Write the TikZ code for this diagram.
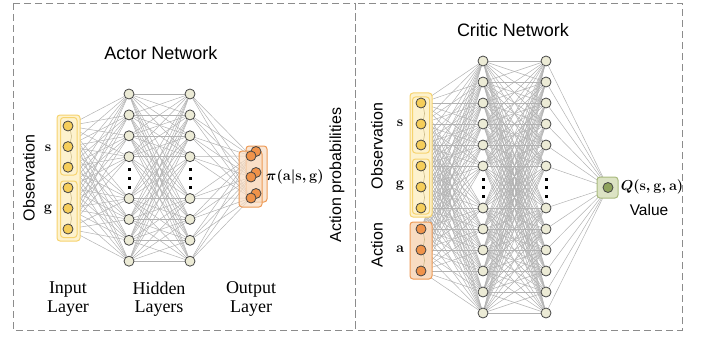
\documentclass[tikz,border=0pt]{standalone}
\usepackage[no-math]{fontspec}
\newfontfamily\sansfont{Liberation Sans}
\newfontfamily\seriffont{Liberation Serif}
\pgfdeclarelayer{edges}
\pgfdeclarelayer{groups}
\pgfsetlayers{edges,groups,main}

\definecolor{edgegray}{HTML}{B2B2B2}
\definecolor{hidfill}{HTML}{ECEBD6}
\definecolor{nodeline}{HTML}{444444}
\definecolor{inyellow}{HTML}{F6CE5A}
\definecolor{boxyellow}{HTML}{FDF2CE}
\definecolor{boxyellowline}{HTML}{F6D36E}
\definecolor{inorange}{HTML}{F0934A}
\definecolor{boxorange}{HTML}{F8DCC2}
\definecolor{boxorangeline}{HTML}{EE9A55}
\definecolor{outgreen}{HTML}{8FA35C}
\definecolor{boxgreen}{HTML}{DCE3C4}
\definecolor{boxgreenline}{HTML}{A9BA7E}
\definecolor{framegray}{HTML}{8C8C8C}
\definecolor{chaintan}{HTML}{C2B07A}

\tikzset{
  neuron/.style={circle, draw=nodeline, line width=0.8pt, minimum size=10pt, inner sep=0pt},
  hidden/.style={neuron, fill=hidfill},
  inneuron/.style={neuron, fill=inyellow},
  actneuron/.style={neuron, fill=inorange},
  valneuron/.style={neuron, fill=outgreen},
  link/.style={draw=edgegray, line width=0.5pt},
  chain/.style={draw=chaintan, line width=0.5pt},
  ybox/.style={draw=boxyellowline, fill=boxyellow, rounded corners=3pt, line width=1pt},
  obox/.style={draw=boxorangeline, fill=boxorange, rounded corners=3pt, line width=1pt},
  gbox/.style={draw=boxgreenline, fill=boxgreen, rounded corners=3pt, line width=1pt},
  framebox/.style={draw=framegray, line width=0.9pt, dash pattern=on 7pt off 4pt},
  title/.style={font=\sansfont\fontsize{18}{20}\selectfont},
  sidelabel/.style={font=\sansfont\fontsize{16}{18}\selectfont, rotate=90},
  layerlabel/.style={font=\seriffont\fontsize{18}{18.5}\selectfont, align=center},
  mathlabel/.style={font=\fontsize{13.5}{15}\selectfont\boldmath},
  letterlabel/.style={font=\fontsize{15}{16}\selectfont\boldmath},
  gapdot/.style={fill=black, minimum size=3pt, inner sep=0pt, rectangle}
}

\begin{document}
\begin{tikzpicture}[x=1pt, y=-1pt]
\useasboundingbox (0,0) rectangle (702,337);

% dashed panels
\draw[framebox] (13,3) rectangle (355,330);
\draw[framebox] (355,3) rectangle (682,330);

% ---------------- Actor network ----------------
\node[title] (atitle) at (161,53) {Actor Network};

\foreach \i in {1,...,6}
  \node[inneuron] (a-in-\i) at (68,{126+20.6*(\i-1)}) {};
\foreach \k [count=\n] in {0,1,2,3,5,6,7,8} {
  \node[hidden] (a-h1-\n) at (129,{94+20.9*\k}) {};
  \node[hidden] (a-h2-\n) at (190,{94+20.9*\k}) {};
}
\foreach \i in {1,2,3}
  \node[actneuron] (a-outb-\i) at (256,{151.5+21*(\i-1)}) {};
\foreach \i in {1,2,3}
  \node[actneuron] (a-out-\i) at (251,{156+21*(\i-1)}) {};

\foreach \y [count=\n] in {169,178,187} {
  \node[gapdot] (a-d1-\n) at (129,\y) {};
  \node[gapdot] (a-d2-\n) at (190,\y) {};
}

\begin{pgfonlayer}{edges}
  \foreach \i in {1,...,6}
    \foreach \j in {1,...,8}
      \draw[link] (a-in-\i) -- (a-h1-\j);
  \foreach \i in {1,...,8}
    \foreach \j in {1,...,8}
      \draw[link] (a-h1-\i) -- (a-h2-\j);
  \foreach \i in {1,...,8}
    \foreach \j in {1,2,3}
      \draw[link] (a-h2-\i) -- (a-out-\j);
\end{pgfonlayer}

\begin{pgfonlayer}{groups}
  \draw[ybox] (57,115) rectangle (80,241);
  \draw[ybox] (60.5,117.5) rectangle (77,175);
  \draw[ybox] (60.5,181) rectangle (77,237.5);
  \draw[obox, fill opacity=0.7] (246,146) rectangle (267,202);
  \draw[obox, fill opacity=0.7] (239,151) rectangle (262,207);
  \foreach \i/\j in {1/2,2/3,4/5,5/6}
    \draw[chain] (a-in-\i.center) to[bend left=35] (a-in-\j.center);
\end{pgfonlayer}

\node[sidelabel] (aobs) at (29,178) {Observation};
\node[letterlabel] (as) at (48,148) {$\mathbf{s}$};
\node[letterlabel] (ag) at (48,210) {$\mathbf{g}$};
\node[mathlabel] (api) at (295,177) {$\pi(\mathbf{a}|\mathbf{s},\mathbf{g})$};
\node[sidelabel] (aprob) at (337,175) {Action probabilities};
\node[layerlabel] (linput) at (68,299) {Input\\Layer};
\node[layerlabel] (lhidden) at (159,299) {Hidden\\Layers};
\node[layerlabel] (loutput) at (251,299) {Output\\Layer};

% ---------------- Critic network ----------------
\node[title] (ctitle) at (513,30) {Critic Network};

\foreach \i in {1,...,6}
  \node[inneuron] (c-in-\i) at (421,{103+21*(\i-1)}) {};
\foreach \i in {7,8,9}
  \node[actneuron] (c-in-\i) at (421,{103+21*(\i-1)}) {};
\foreach \k [count=\n] in {0,1,2,3,4,5,7,8,9,10,11,12} {
  \node[hidden] (c-h1-\n) at (483,{61+21*\k}) {};
  \node[hidden] (c-h2-\n) at (546,{61+21*\k}) {};
}
\node[valneuron] (c-out) at (608,187.5) {};

\foreach \y [count=\n] in {179,187.5,196} {
  \node[gapdot] (c-d1-\n) at (483,\y) {};
  \node[gapdot] (c-d2-\n) at (546,\y) {};
}

\begin{pgfonlayer}{edges}
  \foreach \i in {1,...,9}
    \foreach \j in {1,...,12}
      \draw[link] (c-in-\i) -- (c-h1-\j);
  \foreach \i in {1,...,12}
    \foreach \j in {1,...,12}
      \draw[link] (c-h1-\i) -- (c-h2-\j);
  \foreach \i in {1,...,12}
    \draw[link] (c-h2-\i) -- (c-out);
\end{pgfonlayer}

\begin{pgfonlayer}{groups}
  \draw[ybox] (410,93) rectangle (432,217);
  \draw[ybox] (412.5,97) rectangle (429.5,153);
  \draw[ybox] (412.5,159) rectangle (429.5,214);
  \draw[obox] (410,222) rectangle (432,279);
  \draw[gbox] (597,177) rectangle (618,198);
  \foreach \i/\j in {1/2,2/3,4/5,5/6,7/8,8/9}
    \draw[chain] (c-in-\i.center) to[bend left=35] (c-in-\j.center);
\end{pgfonlayer}

\node[sidelabel] (cobs) at (377,146) {Observation};
\node[sidelabel] (cact) at (377,245) {Action};
\node[letterlabel] (cs) at (400,123) {$\mathbf{s}$};
\node[letterlabel] (cg) at (400,186) {$\mathbf{g}$};
\node[letterlabel] (ca) at (400,249) {$\mathbf{a}$};
\node[mathlabel] (cq) at (652,187) {$Q(\mathbf{s},\mathbf{g},\mathbf{a})$};
\node[font=\sansfont\fontsize{15.5}{17}\selectfont] (cval) at (649,210) {Value};

\end{tikzpicture}
\end{document}
